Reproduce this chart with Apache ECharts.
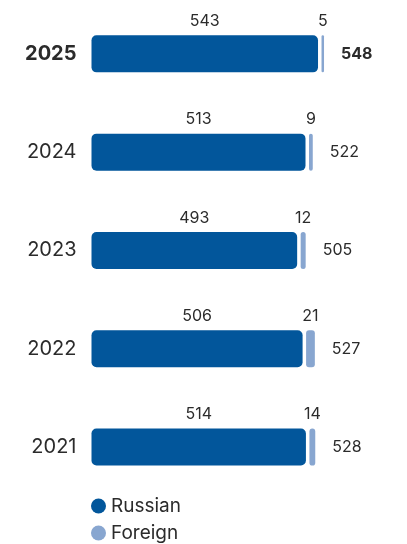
<!DOCTYPE html>
<html>
<head>
<meta charset="utf-8">
<script src="https://cdn.jsdelivr.net/npm/echarts@6/dist/echarts.min.js"></script>
<style>html,body{margin:0;padding:0;background:#fff}#c{width:407px;height:544px}</style>
</head>
<body>
<div id="c"></div>
<script>
const years = ['2025', '2024', '2023', '2022', '2021'];
const russian = [543, 513, 493, 506, 514];
const foreign = [5, 9, 12, 21, 14];
const totals = [548, 522, 505, 527, 528];
const boldYear = '2025';

const RU_COLOR = '#02569b';
const FO_COLOR = '#88a6d0';
const TXT = '#2b2b2b';
const FONT = 'Inter, Roboto, sans-serif';
const BAR_H = 37;
const GAP = 3.5;

const chart = echarts.init(document.getElementById('c'), null, {renderer: 'canvas'});

const foreignData = years.map((y, i) => [russian[i], russian[i] + foreign[i], i, foreign[i], totals[i]]);

chart.setOption({
  animation: false,
  textStyle: {fontFamily: FONT},
  grid: {left: 91.5, right: 65.2, top: 4.7, bottom: 47.8, containLabel: false},
  xAxis: {type: 'value', min: 0, max: 600, show: false},
  yAxis: {
    type: 'category', data: years, inverse: true,
    axisLine: {show: false}, axisTick: {show: false}, splitLine: {show: false},
    axisLabel: {
      margin: 15,
      formatter: v => v === boldYear ? '{b|' + v + '}' : '{n|' + v + '}',
      rich: {
        b: {fontSize: 20, fontWeight: 'bold', color: TXT, fontFamily: FONT},
        n: {fontSize: 20, color: TXT, fontFamily: FONT}
      }
    }
  },
  legend: {
    orient: 'vertical', left: 91, top: 495, padding: 0, height: 120,
    icon: 'circle', itemWidth: 15, itemHeight: 15, itemGap: 5,
    textStyle: {fontSize: 19, lineHeight: 22, color: TXT, fontFamily: FONT, padding: [0, 0, 0, 0]},
    data: ['Russian', 'Foreign']
  },
  series: [
    {
      name: 'Russian', type: 'bar', data: russian, barWidth: BAR_H,
      itemStyle: {color: RU_COLOR, borderRadius: 5},
      label: {show: true, position: 'top', distance: 6, fontSize: 16, color: TXT, fontFamily: FONT}
    },
    {
      name: 'Foreign', type: 'custom', data: foreignData,
      itemStyle: {color: FO_COLOR},
      encode: {x: [0, 1], y: 2},
      renderItem: function (params, api) {
        const i = api.value(2);
        const s = api.coord([api.value(0), i]);
        const e = api.coord([api.value(1), i]);
        const x0 = s[0] + GAP;
        const w = Math.max(e[0] - s[0], 2.5);
        const yc = s[1];
        const isBold = years[i] === boldYear;
        return {
          type: 'group',
          children: [
            {type: 'rect', shape: {x: x0, y: yc - BAR_H / 2, width: w, height: BAR_H, r: Math.min(3, w / 2)},
             style: {fill: FO_COLOR}},
            {type: 'text', x: x0 + w / 2, y: yc - BAR_H / 2 - 6,
             style: {text: String(api.value(3)), fontSize: 16, fill: TXT, fontFamily: FONT,
                     align: 'center', verticalAlign: 'bottom'}},
            {type: 'text', x: x0 + w + 17, y: yc,
             style: {text: String(api.value(4)), fontSize: 16, fill: TXT, fontFamily: FONT,
                     fontWeight: isBold ? 'bold' : 'normal', align: 'left', verticalAlign: 'middle'}}
          ]
        };
      }
    }
  ]
});
</script>
</body>
</html>
